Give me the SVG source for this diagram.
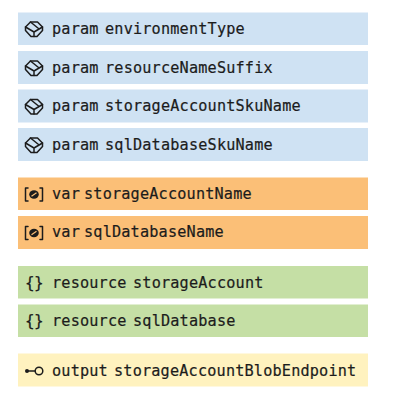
<svg xmlns="http://www.w3.org/2000/svg" width="402" height="406" viewBox="0 0 402 406">
<style>
text{font-family:"DejaVu Sans Mono","Liberation Mono",monospace;font-size:15.200px;fill:#1c1c1c;stroke:#1c1c1c;stroke-width:.2px}
.k{letter-spacing:.18px}
.n{letter-spacing:.18px}
.b{font-size:16px;letter-spacing:-.6px}
.p{fill:#cfe2f3}.v{fill:#fbbf77}.r{fill:#c5dfa5}.o{fill:#fff2bf}
.i{fill:none;stroke:#1c1c1c;stroke-width:1.500;stroke-linejoin:round;stroke-linecap:round}
</style>
<defs>
<g id="cube" class="i"><path d="M-8.500 -2L-3.500 -7H3.500L8.500 -2V1.500L3 7.500H-3L-8.500 1.500Z"/><path d="M-8.500 -2L0 3L8.500 -2M0 3V7.500M-3.500 -7L4.500 -.5"/></g>
<g id="vicon"><path class="i" d="M-6 -6.500H-8.500V6.500H-6M6 -6.500H8.500V6.500H6"/><ellipse cx="0" cy="0" rx="4.800" ry="4.200" fill="#1c1c1c"/><path d="M-2.500 1.800L2.500 -1.800" stroke="#fbbf77" stroke-width="1.200"/></g>
</defs>
<g id="param-environmentType"><rect class="p" x="18" y="12.500" width="350" height="32.500"/><use href="#cube" x="34" y="29"/><text class="k" x="52" y="34">param</text><text class="n" x="105" y="34">environmentType</text></g>
<g id="param-resourceNameSuffix"><rect class="p" x="18" y="51" width="350" height="33"/><use href="#cube" x="34" y="68"/><text class="k" x="52" y="72.500">param</text><text class="n" x="105" y="72.500">resourceNameSuffix</text></g>
<g id="param-storageAccountSkuName"><rect class="p" x="18" y="89.500" width="350" height="33"/><use href="#cube" x="34" y="106.500"/><text class="k" x="52" y="111">param</text><text class="n" x="105" y="111">storageAccountSkuName</text></g>
<g id="param-sqlDatabaseSkuName"><rect class="p" x="18" y="128" width="350" height="33"/><use href="#cube" x="34" y="145"/><text class="k" x="52" y="150">param</text><text class="n" x="105" y="150">sqlDatabaseSkuName</text></g>
<g id="var-storageAccountName"><rect class="v" x="18" y="177.500" width="350" height="32.500"/><use href="#vicon" x="34" y="194.500"/><text class="k" x="52" y="199">var</text><text class="n" x="84" y="199">storageAccountName</text></g>
<g id="var-sqlDatabaseName"><rect class="v" x="18" y="216" width="350" height="33"/><use href="#vicon" x="34" y="233"/><text class="k" x="52" y="237">var</text><text class="n" x="84" y="237">sqlDatabaseName</text></g>
<g id="resource-storageAccount"><rect class="r" x="18" y="266" width="350" height="32.500"/><text class="b" x="25" y="288">{}</text><text class="k" x="52" y="288">resource</text><text class="n" x="133" y="288">storageAccount</text></g>
<g id="resource-sqlDatabase"><rect class="r" x="18" y="304.500" width="350" height="32.500"/><text class="b" x="25" y="326">{}</text><text class="k" x="52" y="325.500">resource</text><text class="n" x="133" y="325.500">sqlDatabase</text></g>
<g id="output-storageAccountBlobEndpoint"><rect class="o" x="18" y="353.500" width="350" height="33"/><circle cx="27" cy="371" r="2" fill="#1c1c1c"/><path class="i" d="M27 371H35"/><circle class="i" cx="39" cy="371" r="3.800"/><text class="k" x="52" y="375.500">output</text><text class="n" x="114" y="375.500">storageAccountBlobEndpoint</text></g>
<g id="connectors"/>
</svg>
